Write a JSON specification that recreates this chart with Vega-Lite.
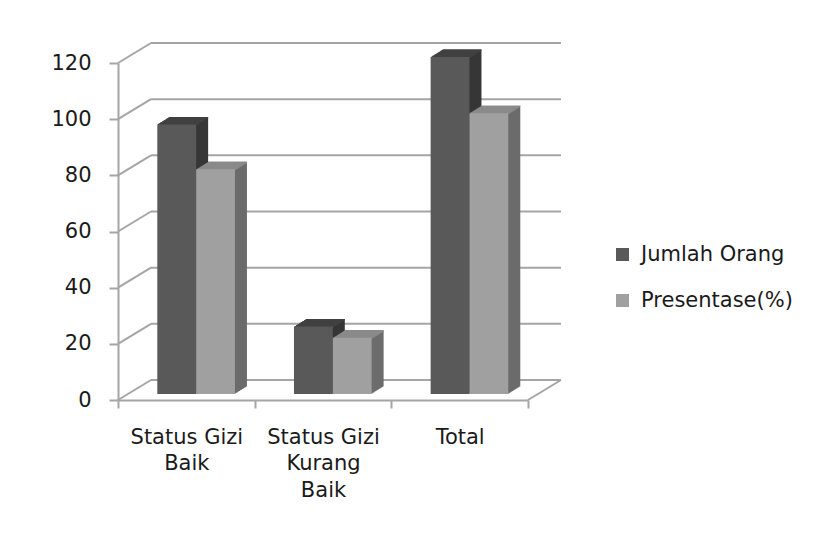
{
  "$schema": "https://vega.github.io/schema/vega-lite/v6.json",
  "width": 410,
  "height": 337,
  "autosize": {"type": "none"},
  "padding": {"left": 118, "top": 63, "right": 294, "bottom": 136},
  "background": "white",
  "config": {
    "font": "DejaVu Sans",
    "view": {"stroke": null},
    "axis": {"domainColor": "#a5a5a5", "domainWidth": 2, "tickColor": "#a5a5a5", "tickWidth": 2, "labelColor": "#1a1a1a", "labelFontSize": 21, "grid": false, "title": null}
  },
  "datasets": {
    "batang": [
      {"kategori": "Status Gizi Baik", "seri": "Jumlah Orang", "nilai": 96},
      {"kategori": "Status Gizi Baik", "seri": "Presentase(%)", "nilai": 80},
      {"kategori": "Status Gizi Kurang Baik", "seri": "Jumlah Orang", "nilai": 24},
      {"kategori": "Status Gizi Kurang Baik", "seri": "Presentase(%)", "nilai": 20},
      {"kategori": "Total", "seri": "Jumlah Orang", "nilai": 120},
      {"kategori": "Total", "seri": "Presentase(%)", "nilai": 100}
    ],
    "garis": [{"v": 0}, {"v": 20}, {"v": 40}, {"v": 60}, {"v": 80}, {"v": 100}, {"v": 120}]
  },
  "resolve": {"scale": {"xOffset": "independent"}},
  "layer": [
    {
      "data": {"name": "garis"},
      "mark": {"type": "rule", "color": "#a5a5a5", "strokeWidth": 2, "xOffset": 33, "x2Offset": 33, "yOffset": -20},
      "encoding": {
        "x": {"datum": "Status Gizi Baik", "bandPosition": 0, "scale": {"type": "band", "domain": ["Status Gizi Baik", "Status Gizi Kurang Baik", "Total"], "paddingInner": 0, "paddingOuter": 0},
          "axis": {"tickBand": "extent", "tickSize": 8, "labelAngle": 0, "labelPadding": 18, "labelLineHeight": 26.5,
            "labelExpr": "datum.value == 'Status Gizi Baik' ? ['Status Gizi', 'Baik'] : datum.value == 'Status Gizi Kurang Baik' ? ['Status Gizi', 'Kurang', 'Baik'] : datum.value"}},
        "x2": {"datum": "Total", "bandPosition": 1},
        "y": {"field": "v", "type": "quantitative", "scale": {"domain": [0, 120], "nice": false},
          "axis": {"values": [0, 20, 40, 60, 80, 100, 120], "tickSize": 9, "labelPadding": 18}}
      }
    },
    {
      "data": {"name": "garis"},
      "mark": {"type": "rule", "color": "#a5a5a5", "strokeWidth": 2, "x2Offset": 33, "y2Offset": -20},
      "encoding": {
        "x": {"datum": "Status Gizi Baik", "bandPosition": 0},
        "x2": {"datum": "Status Gizi Baik", "bandPosition": 0},
        "y": {"field": "v", "type": "quantitative"},
        "y2": {"field": "v"}
      }
    },
    {
      "data": {"name": "garis"},
      "transform": [{"filter": "datum.v == 0"}],
      "mark": {"type": "rule", "color": "#a5a5a5", "strokeWidth": 2, "x2Offset": 33, "y2Offset": -20},
      "encoding": {
        "x": {"datum": "Total", "bandPosition": 1},
        "x2": {"datum": "Total", "bandPosition": 1},
        "y": {"field": "v", "type": "quantitative"},
        "y2": {"field": "v"}
      }
    },
    {"data": {"name": "batang"}, "mark": {"type": "bar", "yOffset": -13.5, "y2Offset": -13.5}, "encoding": {"x": {"field": "kategori", "type": "nominal"}, "xOffset": {"field": "seri", "type": "nominal", "scale": {"range": [12, 148.667], "paddingInner": 0, "paddingOuter": 0.76, "align": 0.666}}, "y": {"field": "nilai", "type": "quantitative"}, "color": {"condition": {"test": "datum.seri == 'Jumlah Orang'", "value": "#363636"}, "value": "#6c6c6c"}}},
    {"data": {"name": "batang"}, "mark": {"type": "bar", "yOffset": -12.875, "y2Offset": -12.875}, "encoding": {"x": {"field": "kategori", "type": "nominal"}, "xOffset": {"field": "seri", "type": "nominal", "scale": {"range": [11, 147.667], "paddingInner": 0, "paddingOuter": 0.76, "align": 0.666}}, "y": {"field": "nilai", "type": "quantitative"}, "color": {"condition": {"test": "datum.seri == 'Jumlah Orang'", "value": "#363636"}, "value": "#6c6c6c"}}},
    {"data": {"name": "batang"}, "mark": {"type": "bar", "yOffset": -12.25, "y2Offset": -12.25}, "encoding": {"x": {"field": "kategori", "type": "nominal"}, "xOffset": {"field": "seri", "type": "nominal", "scale": {"range": [10, 146.667], "paddingInner": 0, "paddingOuter": 0.76, "align": 0.666}}, "y": {"field": "nilai", "type": "quantitative"}, "color": {"condition": {"test": "datum.seri == 'Jumlah Orang'", "value": "#363636"}, "value": "#6c6c6c"}}},
    {"data": {"name": "batang"}, "mark": {"type": "bar", "yOffset": -11.625, "y2Offset": -11.625}, "encoding": {"x": {"field": "kategori", "type": "nominal"}, "xOffset": {"field": "seri", "type": "nominal", "scale": {"range": [9, 145.667], "paddingInner": 0, "paddingOuter": 0.76, "align": 0.666}}, "y": {"field": "nilai", "type": "quantitative"}, "color": {"condition": {"test": "datum.seri == 'Jumlah Orang'", "value": "#363636"}, "value": "#6c6c6c"}}},
    {"data": {"name": "batang"}, "mark": {"type": "bar", "yOffset": -11, "y2Offset": -11}, "encoding": {"x": {"field": "kategori", "type": "nominal"}, "xOffset": {"field": "seri", "type": "nominal", "scale": {"range": [8, 144.667], "paddingInner": 0, "paddingOuter": 0.76, "align": 0.666}}, "y": {"field": "nilai", "type": "quantitative"}, "color": {"condition": {"test": "datum.seri == 'Jumlah Orang'", "value": "#363636"}, "value": "#6c6c6c"}}},
    {"data": {"name": "batang"}, "mark": {"type": "bar", "yOffset": -10.375, "y2Offset": -10.375}, "encoding": {"x": {"field": "kategori", "type": "nominal"}, "xOffset": {"field": "seri", "type": "nominal", "scale": {"range": [7, 143.667], "paddingInner": 0, "paddingOuter": 0.76, "align": 0.666}}, "y": {"field": "nilai", "type": "quantitative"}, "color": {"condition": {"test": "datum.seri == 'Jumlah Orang'", "value": "#363636"}, "value": "#6c6c6c"}}},
    {"data": {"name": "batang"}, "mark": {"type": "bar", "yOffset": -9.75, "y2Offset": -9.75}, "encoding": {"x": {"field": "kategori", "type": "nominal"}, "xOffset": {"field": "seri", "type": "nominal", "scale": {"range": [6, 142.667], "paddingInner": 0, "paddingOuter": 0.76, "align": 0.666}}, "y": {"field": "nilai", "type": "quantitative"}, "color": {"condition": {"test": "datum.seri == 'Jumlah Orang'", "value": "#363636"}, "value": "#6c6c6c"}}},
    {"data": {"name": "batang"}, "mark": {"type": "bar", "yOffset": -9.125, "y2Offset": -9.125}, "encoding": {"x": {"field": "kategori", "type": "nominal"}, "xOffset": {"field": "seri", "type": "nominal", "scale": {"range": [5, 141.667], "paddingInner": 0, "paddingOuter": 0.76, "align": 0.666}}, "y": {"field": "nilai", "type": "quantitative"}, "color": {"condition": {"test": "datum.seri == 'Jumlah Orang'", "value": "#363636"}, "value": "#6c6c6c"}}},
    {"data": {"name": "batang"}, "mark": {"type": "bar", "yOffset": -8.5, "y2Offset": -8.5}, "encoding": {"x": {"field": "kategori", "type": "nominal"}, "xOffset": {"field": "seri", "type": "nominal", "scale": {"range": [4, 140.667], "paddingInner": 0, "paddingOuter": 0.76, "align": 0.666}}, "y": {"field": "nilai", "type": "quantitative"}, "color": {"condition": {"test": "datum.seri == 'Jumlah Orang'", "value": "#363636"}, "value": "#6c6c6c"}}},
    {"data": {"name": "batang"}, "mark": {"type": "bar", "yOffset": -7.875, "y2Offset": -7.875}, "encoding": {"x": {"field": "kategori", "type": "nominal"}, "xOffset": {"field": "seri", "type": "nominal", "scale": {"range": [3, 139.667], "paddingInner": 0, "paddingOuter": 0.76, "align": 0.666}}, "y": {"field": "nilai", "type": "quantitative"}, "color": {"condition": {"test": "datum.seri == 'Jumlah Orang'", "value": "#363636"}, "value": "#6c6c6c"}}},
    {"data": {"name": "batang"}, "mark": {"type": "bar", "yOffset": -7.25, "y2Offset": -7.25}, "encoding": {"x": {"field": "kategori", "type": "nominal"}, "xOffset": {"field": "seri", "type": "nominal", "scale": {"range": [2, 138.667], "paddingInner": 0, "paddingOuter": 0.76, "align": 0.666}}, "y": {"field": "nilai", "type": "quantitative"}, "color": {"condition": {"test": "datum.seri == 'Jumlah Orang'", "value": "#363636"}, "value": "#6c6c6c"}}},
    {"data": {"name": "batang"}, "mark": {"type": "bar", "yOffset": -6.625, "y2Offset": -6.625}, "encoding": {"x": {"field": "kategori", "type": "nominal"}, "xOffset": {"field": "seri", "type": "nominal", "scale": {"range": [1, 137.667], "paddingInner": 0, "paddingOuter": 0.76, "align": 0.666}}, "y": {"field": "nilai", "type": "quantitative"}, "color": {"condition": {"test": "datum.seri == 'Jumlah Orang'", "value": "#363636"}, "value": "#6c6c6c"}}},

    {"data": {"name": "batang"}, "mark": {"type": "bar", "yOffset": -13.5, "y2Offset": -12.1}, "encoding": {"x": {"field": "kategori", "type": "nominal"}, "xOffset": {"field": "seri", "type": "nominal", "scale": {"range": [12, 148.667], "paddingInner": 0, "paddingOuter": 0.76, "align": 0.666}}, "y": {"field": "nilai", "type": "quantitative"}, "y2": {"field": "nilai"}, "color": {"condition": {"test": "datum.seri == 'Jumlah Orang'", "value": "#414141"}, "value": "#8a8a8a"}}},
    {"data": {"name": "batang"}, "mark": {"type": "bar", "yOffset": -12.875, "y2Offset": -11.475}, "encoding": {"x": {"field": "kategori", "type": "nominal"}, "xOffset": {"field": "seri", "type": "nominal", "scale": {"range": [11, 147.667], "paddingInner": 0, "paddingOuter": 0.76, "align": 0.666}}, "y": {"field": "nilai", "type": "quantitative"}, "y2": {"field": "nilai"}, "color": {"condition": {"test": "datum.seri == 'Jumlah Orang'", "value": "#414141"}, "value": "#8a8a8a"}}},
    {"data": {"name": "batang"}, "mark": {"type": "bar", "yOffset": -12.25, "y2Offset": -10.85}, "encoding": {"x": {"field": "kategori", "type": "nominal"}, "xOffset": {"field": "seri", "type": "nominal", "scale": {"range": [10, 146.667], "paddingInner": 0, "paddingOuter": 0.76, "align": 0.666}}, "y": {"field": "nilai", "type": "quantitative"}, "y2": {"field": "nilai"}, "color": {"condition": {"test": "datum.seri == 'Jumlah Orang'", "value": "#414141"}, "value": "#8a8a8a"}}},
    {"data": {"name": "batang"}, "mark": {"type": "bar", "yOffset": -11.625, "y2Offset": -10.225}, "encoding": {"x": {"field": "kategori", "type": "nominal"}, "xOffset": {"field": "seri", "type": "nominal", "scale": {"range": [9, 145.667], "paddingInner": 0, "paddingOuter": 0.76, "align": 0.666}}, "y": {"field": "nilai", "type": "quantitative"}, "y2": {"field": "nilai"}, "color": {"condition": {"test": "datum.seri == 'Jumlah Orang'", "value": "#414141"}, "value": "#8a8a8a"}}},
    {"data": {"name": "batang"}, "mark": {"type": "bar", "yOffset": -11, "y2Offset": -9.6}, "encoding": {"x": {"field": "kategori", "type": "nominal"}, "xOffset": {"field": "seri", "type": "nominal", "scale": {"range": [8, 144.667], "paddingInner": 0, "paddingOuter": 0.76, "align": 0.666}}, "y": {"field": "nilai", "type": "quantitative"}, "y2": {"field": "nilai"}, "color": {"condition": {"test": "datum.seri == 'Jumlah Orang'", "value": "#414141"}, "value": "#8a8a8a"}}},
    {"data": {"name": "batang"}, "mark": {"type": "bar", "yOffset": -10.375, "y2Offset": -8.975}, "encoding": {"x": {"field": "kategori", "type": "nominal"}, "xOffset": {"field": "seri", "type": "nominal", "scale": {"range": [7, 143.667], "paddingInner": 0, "paddingOuter": 0.76, "align": 0.666}}, "y": {"field": "nilai", "type": "quantitative"}, "y2": {"field": "nilai"}, "color": {"condition": {"test": "datum.seri == 'Jumlah Orang'", "value": "#414141"}, "value": "#8a8a8a"}}},
    {"data": {"name": "batang"}, "mark": {"type": "bar", "yOffset": -9.75, "y2Offset": -8.35}, "encoding": {"x": {"field": "kategori", "type": "nominal"}, "xOffset": {"field": "seri", "type": "nominal", "scale": {"range": [6, 142.667], "paddingInner": 0, "paddingOuter": 0.76, "align": 0.666}}, "y": {"field": "nilai", "type": "quantitative"}, "y2": {"field": "nilai"}, "color": {"condition": {"test": "datum.seri == 'Jumlah Orang'", "value": "#414141"}, "value": "#8a8a8a"}}},
    {"data": {"name": "batang"}, "mark": {"type": "bar", "yOffset": -9.125, "y2Offset": -7.725}, "encoding": {"x": {"field": "kategori", "type": "nominal"}, "xOffset": {"field": "seri", "type": "nominal", "scale": {"range": [5, 141.667], "paddingInner": 0, "paddingOuter": 0.76, "align": 0.666}}, "y": {"field": "nilai", "type": "quantitative"}, "y2": {"field": "nilai"}, "color": {"condition": {"test": "datum.seri == 'Jumlah Orang'", "value": "#414141"}, "value": "#8a8a8a"}}},
    {"data": {"name": "batang"}, "mark": {"type": "bar", "yOffset": -8.5, "y2Offset": -7.1}, "encoding": {"x": {"field": "kategori", "type": "nominal"}, "xOffset": {"field": "seri", "type": "nominal", "scale": {"range": [4, 140.667], "paddingInner": 0, "paddingOuter": 0.76, "align": 0.666}}, "y": {"field": "nilai", "type": "quantitative"}, "y2": {"field": "nilai"}, "color": {"condition": {"test": "datum.seri == 'Jumlah Orang'", "value": "#414141"}, "value": "#8a8a8a"}}},
    {"data": {"name": "batang"}, "mark": {"type": "bar", "yOffset": -7.875, "y2Offset": -6.475}, "encoding": {"x": {"field": "kategori", "type": "nominal"}, "xOffset": {"field": "seri", "type": "nominal", "scale": {"range": [3, 139.667], "paddingInner": 0, "paddingOuter": 0.76, "align": 0.666}}, "y": {"field": "nilai", "type": "quantitative"}, "y2": {"field": "nilai"}, "color": {"condition": {"test": "datum.seri == 'Jumlah Orang'", "value": "#414141"}, "value": "#8a8a8a"}}},
    {"data": {"name": "batang"}, "mark": {"type": "bar", "yOffset": -7.25, "y2Offset": -5.85}, "encoding": {"x": {"field": "kategori", "type": "nominal"}, "xOffset": {"field": "seri", "type": "nominal", "scale": {"range": [2, 138.667], "paddingInner": 0, "paddingOuter": 0.76, "align": 0.666}}, "y": {"field": "nilai", "type": "quantitative"}, "y2": {"field": "nilai"}, "color": {"condition": {"test": "datum.seri == 'Jumlah Orang'", "value": "#414141"}, "value": "#8a8a8a"}}},
    {"data": {"name": "batang"}, "mark": {"type": "bar", "yOffset": -6.625, "y2Offset": -5.225}, "encoding": {"x": {"field": "kategori", "type": "nominal"}, "xOffset": {"field": "seri", "type": "nominal", "scale": {"range": [1, 137.667], "paddingInner": 0, "paddingOuter": 0.76, "align": 0.666}}, "y": {"field": "nilai", "type": "quantitative"}, "y2": {"field": "nilai"}, "color": {"condition": {"test": "datum.seri == 'Jumlah Orang'", "value": "#414141"}, "value": "#8a8a8a"}}},

    {
      "data": {"name": "batang"},
      "mark": {"type": "bar", "yOffset": -6, "y2Offset": -6},
      "encoding": {
        "x": {"field": "kategori", "type": "nominal"},
        "xOffset": {"field": "seri", "type": "nominal", "scale": {"range": [0, 136.667], "paddingInner": 0, "paddingOuter": 0.76, "align": 0.666}},
        "y": {"field": "nilai", "type": "quantitative"},
        "color": {"field": "seri", "type": "nominal",
          "scale": {"domain": ["Jumlah Orang", "Presentase(%)"], "range": ["#595959", "#a0a0a0"]},
          "legend": {"title": null, "orient": "none", "legendX": 494, "legendY": 181, "symbolType": "square", "symbolSize": 170, "symbolStrokeWidth": 0, "labelFontSize": 21, "labelColor": "#1a1a1a", "labelOffset": 8, "rowPadding": 24}}
      }
    }
  ]
}
